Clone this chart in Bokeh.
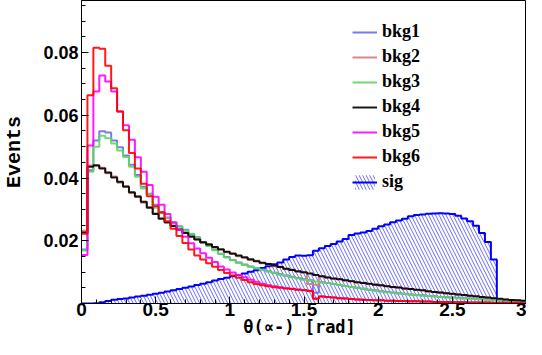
import numpy as np
from bokeh.plotting import figure
from bokeh.models import FixedTicker, Legend, LegendItem, LinearAxis
from bokeh.embed import file_html
from bokeh.resources import INLINE

# ---- data (bin contents, 75 bins of width 0.04 rad from 0 to 3) ----
x_lo, x_hi = 0.0, 3.0

sig = [0, 0, 0.0001, 0.0004, 0.0008, 0.0012, 0.0014, 0.0016, 0.0019, 0.0022,
       0.0025, 0.0028, 0.0031, 0.0034, 0.0038, 0.0042, 0.0046, 0.0050, 0.0054, 0.0059,
       0.0063, 0.0068, 0.0073, 0.0078, 0.0082, 0.0087, 0.0091, 0.0096, 0.0101, 0.0106,
       0.0113, 0.0119, 0.0125, 0.0131, 0.0140, 0.0148, 0.0153, 0.0152, 0.0154, 0.0168,
       0.0176, 0.0183, 0.0190, 0.0198, 0.0206, 0.0218, 0.0223, 0.0226, 0.0231, 0.0238,
       0.0246, 0.0252, 0.0259, 0.0265, 0.0270, 0.0278, 0.0282, 0.0284, 0.0286, 0.0287,
       0.0288, 0.0287, 0.0285, 0.0280, 0.0271, 0.0262, 0.0248, 0.0225, 0.0196, 0.0140,
       0.0012, 0, 0, 0, 0]

bkg1 = [0.0172, 0.0425, 0.0520, 0.0549, 0.0545, 0.0520, 0.0498, 0.0472, 0.0442, 0.0410,
        0.0372, 0.0350, 0.0315, 0.0292, 0.0274, 0.0259, 0.0246, 0.0235, 0.0221, 0.0211,
        0.0195, 0.0184, 0.0171, 0.0159, 0.0148, 0.0139, 0.0131, 0.0124, 0.0118, 0.0113,
        0.0108, 0.0103, 0.0098, 0.0093, 0.0089, 0.0085, 0.0081, 0.0077, 0.0074, 0.0034,
        0.0068, 0.0065, 0.0062, 0.0059, 0.0056, 0.0053, 0.0050, 0.0047, 0.0044, 0.0042,
        0.0039, 0.0037, 0.0035, 0.0033, 0.0031, 0.0029, 0.0027, 0.0026, 0.0024, 0.0023,
        0.0021, 0.0020, 0.0019, 0.0018, 0.0017, 0.0016, 0.0015, 0.0014, 0.0013, 0.0012,
        0.0011, 0.0010, 0.0009, 0.0008, 0.0007]

bkg2 = [0.0232, 0.0440, 0.0438, 0.0433, 0.0415, 0.0405, 0.0385, 0.0375, 0.0352, 0.0343,
        0.0321, 0.0308, 0.0288, 0.0272, 0.0260, 0.0249, 0.0235, 0.0227, 0.0212, 0.0205,
        0.0194, 0.0190, 0.0178, 0.0174, 0.0163, 0.0160, 0.0151, 0.0148, 0.0139, 0.0136,
        0.0128, 0.0127, 0.0119, 0.0117, 0.0109, 0.0108, 0.0101, 0.0099, 0.0062, 0.0060,
        0.0086, 0.0084, 0.0079, 0.0078, 0.0073, 0.0072, 0.0067, 0.0066, 0.0062, 0.0061,
        0.0057, 0.0056, 0.0052, 0.0051, 0.0047, 0.0046, 0.0043, 0.0042, 0.0038, 0.0037,
        0.0034, 0.0033, 0.0030, 0.0029, 0.0026, 0.0025, 0.0022, 0.0021, 0.0018, 0.0017,
        0.0014, 0.0013, 0.0011, 0.0010, 0.0009]

bkg3 = [0.0169, 0.0420, 0.0500, 0.0535, 0.0527, 0.0510, 0.0488, 0.0467, 0.0436, 0.0404,
        0.0367, 0.0348, 0.0305, 0.0288, 0.0272, 0.0257, 0.0245, 0.0233, 0.0222, 0.0210,
        0.0196, 0.0183, 0.0170, 0.0158, 0.0147, 0.0138, 0.0130, 0.0123, 0.0117, 0.0112,
        0.0107, 0.0103, 0.0097, 0.0092, 0.0088, 0.0084, 0.0080, 0.0076, 0.0073, 0.0070,
        0.0067, 0.0065, 0.0062, 0.0059, 0.0056, 0.0053, 0.0050, 0.0047, 0.0044, 0.0041,
        0.0038, 0.0036, 0.0034, 0.0032, 0.0030, 0.0028, 0.0026, 0.0025, 0.0024, 0.0022,
        0.0021, 0.0020, 0.0018, 0.0017, 0.0016, 0.0015, 0.0014, 0.0013, 0.0012, 0.0011,
        0.0010, 0.0009, 0.0008, 0.0007, 0.0006]

bkg4 = [0.0226, 0.0436, 0.0441, 0.0430, 0.0418, 0.0402, 0.0388, 0.0372, 0.0355, 0.0340,
        0.0324, 0.0305, 0.0285, 0.0270, 0.0258, 0.0247, 0.0236, 0.0225, 0.0214, 0.0204,
        0.0195, 0.0188, 0.0180, 0.0172, 0.0165, 0.0159, 0.0153, 0.0147, 0.0141, 0.0135,
        0.0130, 0.0126, 0.0121, 0.0116, 0.0111, 0.0107, 0.0103, 0.0100, 0.0096, 0.0091,
        0.0087, 0.0083, 0.0080, 0.0077, 0.0074, 0.0071, 0.0068, 0.0065, 0.0063, 0.0060,
        0.0058, 0.0055, 0.0053, 0.0051, 0.0048, 0.0046, 0.0044, 0.0042, 0.0039, 0.0037,
        0.0035, 0.0033, 0.0031, 0.0029, 0.0027, 0.0025, 0.0023, 0.0021, 0.0019, 0.0017,
        0.0015, 0.0013, 0.0011, 0.0010, 0.0009]

bkg5 = [0.0155, 0.0504, 0.0676, 0.0727, 0.0708, 0.0676, 0.0612, 0.0568, 0.0522, 0.0466,
        0.0420, 0.0378, 0.0340, 0.0315, 0.0285, 0.0258, 0.0235, 0.0213, 0.0192, 0.0175,
        0.0160, 0.0146, 0.0132, 0.0118, 0.0108, 0.0099, 0.0091, 0.0084, 0.0076, 0.0069,
        0.0063, 0.0058, 0.0055, 0.0052, 0.0049, 0.0047, 0.0045, 0.0043, 0.0041, 0.0016,
        0.0022, 0.0021, 0.0019, 0.0017, 0.0016, 0.0014, 0.0013, 0.0012, 0.0011, 0.0010,
        0.0010, 0.0009, 0.0009, 0.0008, 0.0008, 0.0007, 0.0007, 0.0006, 0.0006, 0.0005,
        0.0005, 0.0005, 0.0004, 0.0004, 0.0004, 0.0003, 0.0003, 0.0003, 0.0003, 0.0002,
        0.0002, 0.0002, 0.0002, 0.0002, 0.0001]

bkg6 = [0.0222, 0.0664, 0.0815, 0.0812, 0.0758, 0.0686, 0.0612, 0.0552, 0.0480, 0.0430,
        0.0382, 0.0342, 0.0310, 0.0290, 0.0262, 0.0238, 0.0215, 0.0193, 0.0172, 0.0153,
        0.0140, 0.0128, 0.0117, 0.0107, 0.0097, 0.0089, 0.0082, 0.0075, 0.0068, 0.0062,
        0.0058, 0.0055, 0.0052, 0.0050, 0.0048, 0.0046, 0.0044, 0.0042, 0.0040, 0.0015,
        0.0022, 0.0021, 0.0019, 0.0017, 0.0016, 0.0014, 0.0013, 0.0012, 0.0011, 0.0010,
        0.0010, 0.0009, 0.0009, 0.0008, 0.0008, 0.0007, 0.0007, 0.0006, 0.0006, 0.0005,
        0.0005, 0.0005, 0.0004, 0.0004, 0.0004, 0.0003, 0.0003, 0.0003, 0.0003, 0.0002,
        0.0002, 0.0002, 0.0002, 0.0002, 0.0001]

x_major = [0, 0.5, 1, 1.5, 2, 2.5, 3]
x_labels = ["0", "0.5", "1", "1.5", "2", "2.5", "3"]
y_major = [0.02, 0.04, 0.06, 0.08]
y_labels = ["0.02", "0.04", "0.06", "0.08"]
x_title = "θ(∝-) [rad]"
y_title = "Events"

series = [("bkg1", bkg1, "#6b6bea"), ("bkg2", bkg2, "#d57a7a"),
          ("bkg3", bkg3, "#5fd65f"), ("bkg4", bkg4, "#000000"),
          ("bkg5", bkg5, "#ff00ff"), ("bkg6", bkg6, "#ff0000")]

n = len(sig)
edges = np.linspace(x_lo, x_hi, n + 1)


def step_xy(vals):
    xs = np.repeat(edges, 2)[1:-1]
    ys = np.repeat(np.asarray(vals, dtype=float), 2)
    return xs, ys


p = figure(width=526, height=339, x_range=(0, 3), y_range=(0, 0.0966),
           output_backend="svg", toolbar_location=None,
           min_border_left=74, min_border_right=0, min_border_top=0, min_border_bottom=0)
p.grid.visible = False
p.outline_line_color = "black"
p.outline_line_width = 1
p.background_fill_color = "white"

items = []

# signal: hatched area + outline
sx, sy = step_xy(sig)
px = np.concatenate([[edges[0]], sx, [edges[-1]]])
py = np.concatenate([[0.0], sy, [0.0]])
sig_fill = p.patch(px, py, fill_alpha=0, line_alpha=0,
                   hatch_pattern="\\", hatch_color="#3a3af0", hatch_alpha=0.75,
                   hatch_scale=7, hatch_weight=1)
sig_line = p.line(sx, sy, line_color="#0000ff", line_width=2)

for name, vals, col in series:
    xs, ys = step_xy(vals)
    r = p.line(xs, ys, line_color=col, line_width=2, line_alpha=0.9)
    items.append(LegendItem(label=name, renderers=[r]))
items.append(LegendItem(label="sig", renderers=[sig_fill, sig_line]))

legend = Legend(items=items, location=(271, 111), padding=0, margin=0,
                border_line_alpha=0, background_fill_alpha=0,
                glyph_width=25, glyph_height=18, spacing=4, label_standoff=5,
                label_text_font="Liberation Serif", label_text_font_style="bold",
                label_text_font_size="18px", label_text_color="black")
p.add_layout(legend, "center")

# main axes
xax = p.xaxis[0]
yax = p.yaxis[0]
xax.ticker = FixedTicker(ticks=x_major,
                         minor_ticks=[round(0.1 * i, 2) for i in range(31)])
xax.major_label_overrides = dict(zip(x_major, x_labels))
yax.ticker = FixedTicker(ticks=y_major,
                         minor_ticks=[round(0.005 * i, 3) for i in range(20)])
yax.major_label_overrides = dict(zip(y_major, y_labels))

for ax in (xax, yax):
    ax.axis_line_color = "black"
    ax.axis_line_width = 1
    ax.major_tick_out = 0
    ax.minor_tick_out = 0
    ax.major_tick_in = 7
    ax.minor_tick_in = 4
    ax.major_tick_line_color = "black"
    ax.minor_tick_line_color = "black"
    ax.major_label_text_font = "Liberation Sans"
    ax.major_label_text_font_style = "bold"
    ax.major_label_text_color = "black"

xax.major_label_text_font_size = "19px"
xax.major_label_standoff = -1
yax.major_label_text_font_size = "18px"
yax.major_label_standoff = 3
yax.axis_label = y_title
yax.axis_label_text_font = "Liberation Mono"
yax.axis_label_text_font_style = "bold"
yax.axis_label_text_font_size = "20px"
yax.axis_label_text_color = "black"
yax.axis_label_standoff = 14

# x-axis title drawn as the single tick label of a bare second axis below
title_pos = [1.47]
tax = LinearAxis(ticker=FixedTicker(ticks=title_pos, minor_ticks=[]),
                 major_label_overrides={title_pos[0]: x_title},
                 axis_line_alpha=0, major_tick_out=0, major_tick_in=0,
                 minor_tick_out=0, minor_tick_in=0, major_label_standoff=-2,
                 major_label_text_font="DejaVu Sans Mono",
                 major_label_text_font_style="bold",
                 major_label_text_font_size="17px",
                 major_label_text_color="black")
p.add_layout(tax, "below")

open("out.html", "w").write(file_html(p, INLINE))
